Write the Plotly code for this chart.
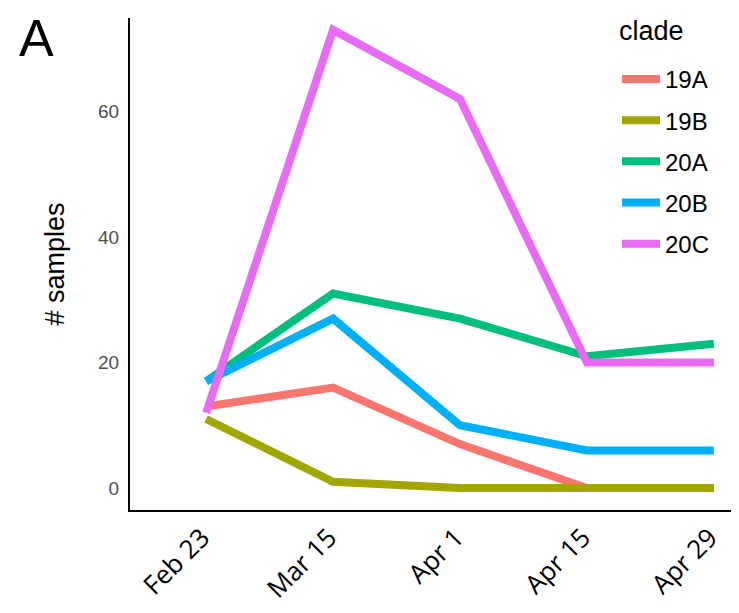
import plotly.graph_objects as go

dates = ["Feb 23", "Mar 15", "Apr 1", "Apr 15", "Apr 29"]
clades = ["19A", "19B", "20A", "20B", "20C"]
v_19A = [13, 16, 7, 0, 0]
v_19B = [11, 1, 0, 0, 0]
v_20A = [17, 31, 27, 21, 23]
v_20B = [17, 27, 10, 6, 6]
v_20C = [12, 73, 62, 20, 20]
colors = ["#F8766D", "#A3A500", "#00BF7D", "#00B0F6", "#E76BF3"]
series = [v_19A, v_19B, v_20A, v_20B, v_20C]
y_ticks = [0, 20, 40, 60]

fig = go.Figure()
for name, vals, col in zip(clades, series, colors):
    fig.add_trace(go.Scatter(
        x=list(range(len(dates))), y=vals, name=name, mode="lines",
        line=dict(color=col, width=8), legendgroup=name,
    ))

fig.update_layout(
    width=731, height=605,
    margin=dict(l=122, r=1, t=10, b=103),
    plot_bgcolor="white", paper_bgcolor="white",
    font=dict(family="Liberation Sans, Arial, sans-serif", color="black"),
    xaxis=dict(
        tickmode="array", tickvals=list(range(len(dates))), ticktext=dates,
        range=[-0.6, 4.19], tickangle=-45, showgrid=False, zeroline=False,
        showline=True, linecolor="black", linewidth=2, ticks="", automargin=False,
        ticklabelshift=-4,
        tickfont=dict(family="Open Sans, sans-serif", size=26, color="black"),
    ),
    yaxis=dict(
        tickvals=y_ticks, range=[-3.5, 74.9], showgrid=False, zeroline=False,
        showline=True, linecolor="black", linewidth=2, ticks="", automargin=False,
        ticklabelstandoff=5,
        tickfont=dict(size=19, color="#4d4d4d"),
        title=dict(text="# samples", font=dict(size=27, color="black"), standoff=26),
    ),
    legend=dict(
        x=0.801, xanchor="left", y=0.921, yanchor="top",
        font=dict(size=24), tracegroupgap=7, itemwidth=38,
        bgcolor="rgba(0,0,0,0)",
    ),
    annotations=[
        dict(text="A", x=0.0, y=1.0, xref="paper", yref="paper",
             xanchor="left", yanchor="top", showarrow=False, borderpad=0,
             font=dict(size=52, color="black"), xshift=-112, yshift=10),
        dict(text="clade", x=0.801, y=1.0, xref="paper", yref="paper",
             xanchor="left", yanchor="middle", showarrow=False,
             font=dict(size=27, color="black"), yshift=-13),
    ],
)
fig.write_html("out.html")
